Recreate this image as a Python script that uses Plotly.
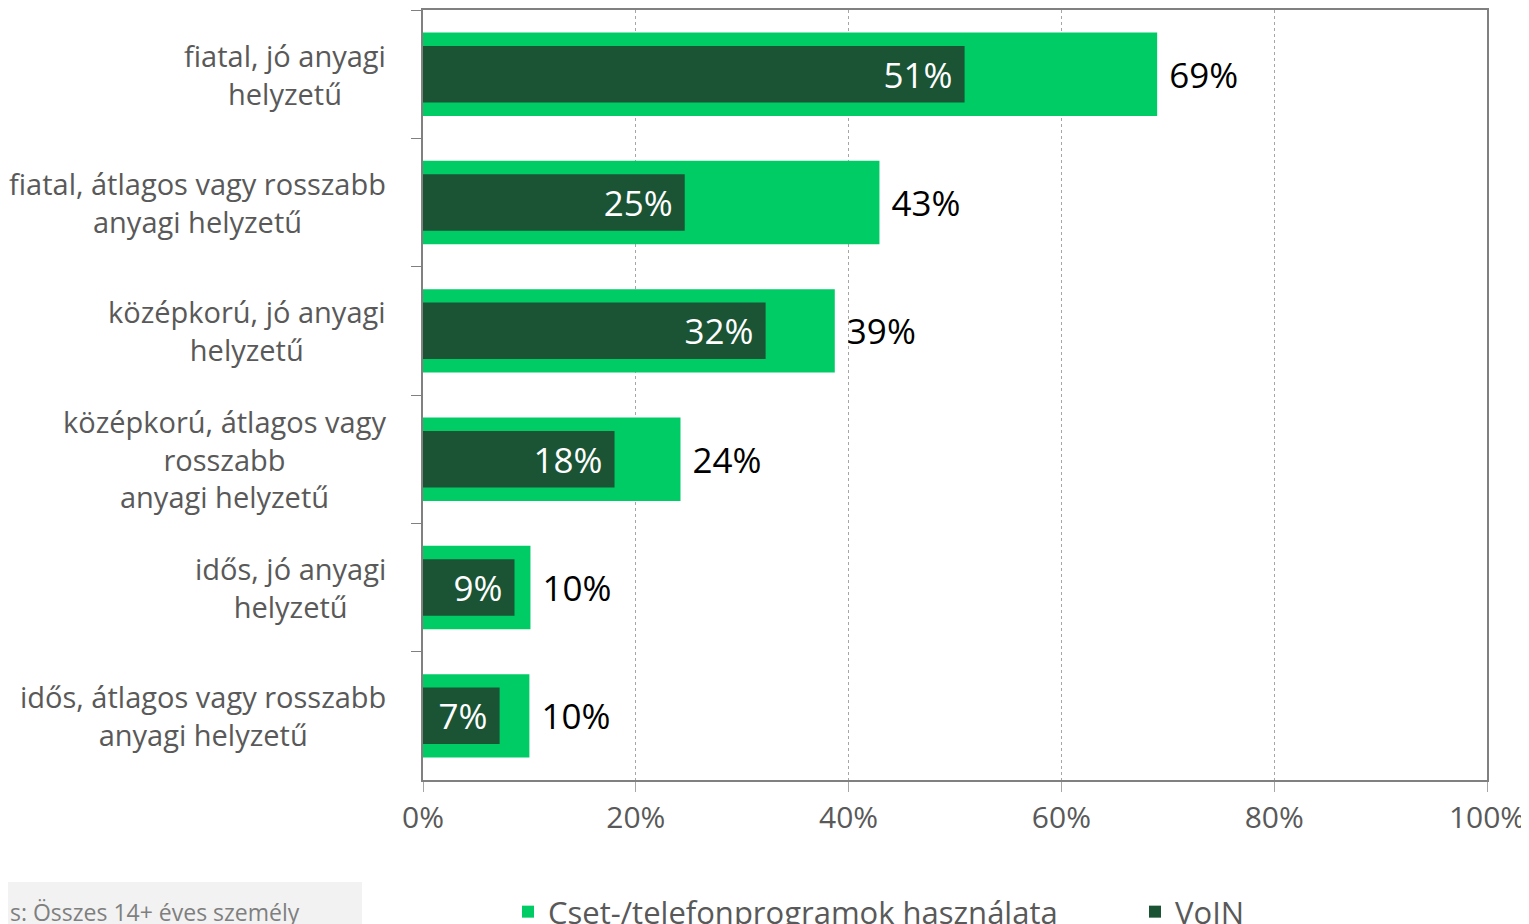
import plotly.graph_objects as go

categories = [
    "fiatal, jó anyagi<br>helyzetű",
    "fiatal, átlagos vagy rosszabb<br>anyagi helyzetű",
    "középkorú, jó anyagi<br>helyzetű",
    "középkorú, átlagos vagy<br>rosszabb<br>anyagi helyzetű",
    "idős, jó anyagi<br>helyzetű",
    "idős, átlagos vagy rosszabb<br>anyagi helyzetű",
]
chat_values = [69.0, 42.9, 38.7, 24.2, 10.1, 10.0]
voin_values = [50.9, 24.6, 32.2, 18.0, 8.6, 7.2]
x_ticks = [0, 20, 40, 60, 80, 100]
x_tick_labels = ["0%", "20%", "40%", "60%", "80%", "100%"]
footnote = "s: Összes 14+ éves személy"

FONT = "Open Sans"
GRAY = "#595959"
LIGHT = "#00CC66"
DARK = "#1A5434"
NB = "\u00a0"

# page has an 8px body margin, so work in shifted screen coordinates
OFF = 8
W, H = 1529 - OFF, 924 - OFF
L, T = 423 - OFF, 10 - OFF
pw, ph = 1487 - 423, 780 - 10
R, B = W - L - pw, H - T - ph


def px_x(sx):
    return (sx - OFF - L) / pw


def px_y(sy):
    return (T + ph - (sy - OFF)) / ph


fig = go.Figure()

fig.add_trace(go.Bar(
    y=categories, x=chat_values, orientation="h",
    name="Cset-/telefonprogramok használata",
    marker_color=LIGHT, marker_line_width=0, width=0.65,
    texttemplate=NB + "%{x:.0f}%", textposition="outside",
    textfont=dict(family=FONT, size=35, color="black"),
    cliponaxis=False, legend="legend",
))
fig.add_trace(go.Bar(
    y=categories, x=voin_values, orientation="h",
    name="VoIN",
    marker_color=DARK, marker_line_width=0, width=0.44,
    texttemplate="%{x:.0f}%" + NB, textposition="inside",
    insidetextanchor="end",
    insidetextfont=dict(family=FONT, size=35, color="white"),
    legend="legend2",
))

# category labels, centered lines like the original
for cat in categories:
    fig.add_annotation(
        x=px_x(388), xref="paper", y=cat, yref="y",
        text=cat, showarrow=False, xanchor="right", align="center",
        font=dict(family=FONT, size=29, color=GRAY),
    )

# footnote box at the bottom left
fig.add_shape(
    type="rect", xref="paper", yref="paper", layer="below",
    x0=px_x(0), x1=px_x(362), y0=px_y(930), y1=px_y(882),
    fillcolor="#F2F2F2", line_width=0,
)
fig.add_annotation(
    x=px_x(OFF), xref="paper", y=px_y(912), yref="paper",
    text=footnote, showarrow=False, xanchor="left", yanchor="middle",
    font=dict(family=FONT, size=23, color="#7F7F7F"),
)

legend_style = dict(
    orientation="h", yanchor="middle", y=px_y(912),
    font=dict(family=FONT, size=31, color=GRAY),
    bgcolor="rgba(0,0,0,0)",
)

fig.update_layout(
    width=W, height=H,
    margin=dict(l=L, r=R, t=T, b=B, autoexpand=False),
    paper_bgcolor="white", plot_bgcolor="white",
    barmode="overlay", showlegend=True,
    font=dict(family=FONT, color=GRAY),
    legend=dict(legend_style, x=px_x(508), xanchor="left"),
    legend2=dict(legend_style, x=px_x(1135), xanchor="left"),
    xaxis=dict(
        range=[0, 100], tickvals=x_ticks, ticktext=x_tick_labels,
        showgrid=True, gridcolor="#A6A6A6", griddash="dot", gridwidth=1,
        showline=True, linecolor="#808080", linewidth=2, mirror=True,
        ticks="outside", ticklen=10, tickcolor="#A6A6A6",
        tickfont=dict(family=FONT, size=30, color=GRAY),
        zeroline=False,
    ),
    yaxis=dict(
        autorange="reversed", showticklabels=False,
        tickson="boundaries", ticks="outside", ticklen=10, tickcolor="#808080",
        showline=True, linecolor="#808080", linewidth=2, mirror=True,
        showgrid=False,
    ),
)

fig.write_html("out.html")
